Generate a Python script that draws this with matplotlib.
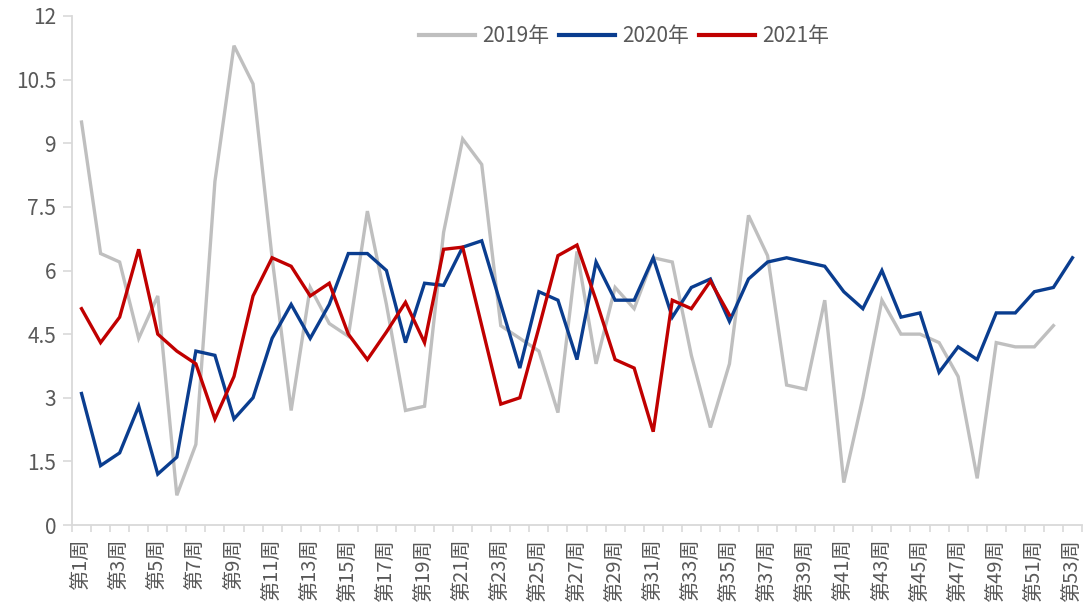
import matplotlib
matplotlib.use("Agg")
import matplotlib.pyplot as plt
import numpy as np

plt.rcParams['font.family'] = ['Noto Sans CJK SC', 'DejaVu Sans']

weeks = [f"第{i}周" for i in range(1, 54)]

y2019 = [9.5, 6.4, 6.2, 4.4, 5.4, 0.7, 1.9, 8.1, 11.3, 10.4,
         6.3, 2.7, 5.6, 4.75, 4.45, 7.4, 5.2, 2.7, 2.8, 6.9,
         9.1, 8.5, 4.7, 4.4, 4.1, 2.65, 6.45, 3.8, 5.6, 5.1,
         6.3, 6.2, 4.0, 2.3, 3.8, 7.3, 6.35, 3.3, 3.2, 5.3,
         1.0, 3.0, 5.3, 4.5, 4.5, 4.3, 3.5, 1.1, 4.3, 4.2,
         4.2, 4.7]
y2020 = [3.1, 1.4, 1.7, 2.8, 1.2, 1.6, 4.1, 4.0, 2.5, 3.0,
         4.4, 5.2, 4.4, 5.2, 6.4, 6.4, 6.0, 4.3, 5.7, 5.65,
         6.55, 6.7, 5.2, 3.7, 5.5, 5.3, 3.9, 6.2, 5.3, 5.3,
         6.3, 4.9, 5.6, 5.8, 4.8, 5.8, 6.2, 6.3, 6.2, 6.1,
         5.5, 5.1, 6.0, 4.9, 5.0, 3.6, 4.2, 3.9, 5.0, 5.0,
         5.5, 5.6, 6.3]
y2021 = [5.1, 4.3, 4.9, 6.5, 4.5, 4.1, 3.8, 2.5, 3.5, 5.4,
         6.3, 6.1, 5.4, 5.7, 4.5, 3.9, 4.55, 5.25, 4.3, 6.5,
         6.55, 4.7, 2.85, 3.0, 4.65, 6.35, 6.6, 5.3, 3.9, 3.7,
         2.2, 5.3, 5.1, 5.75, 4.95]

series_names = ["2019年", "2020年", "2021年"]
series_colors = ["#bfbfbf", "#0a3d8f", "#c00000"]

yticks = [0, 1.5, 3, 4.5, 6, 7.5, 9, 10.5, 12]
ytick_labels = ["0", "1.5", "3", "4.5", "6", "7.5", "9", "10.5", "12"]

W, H = 1088, 612
fig = plt.figure(figsize=(W / 100, H / 100), dpi=100)
ax = fig.add_axes([72 / W, 1 - 525 / H, (1082 - 72) / W, (525 - 16) / H])

x = np.arange(len(weeks))
for vals, name, col in zip([y2019, y2020, y2021], series_names, series_colors):
    ax.plot(x[:len(vals)], vals, color=col, lw=2.4, label=name,
            solid_joinstyle='miter', zorder=3)

ax.set_xlim(-0.5, len(weeks) - 0.5)
ax.set_ylim(0, 12)
ax.set_yticks(yticks)
ax.set_yticklabels(ytick_labels)
ax.set_xticks(x[::2])
ax.set_xticklabels(weeks[::2], rotation=90)
ax.set_xticks(np.arange(-0.5, len(weeks), 1), minor=True)

axis_col = "#d9d9d9"
text_col = "#595959"
for s in ['top', 'right']:
    ax.spines[s].set_visible(False)
for s in ['left', 'bottom']:
    ax.spines[s].set_color(axis_col)
    ax.spines[s].set_linewidth(1.3)

ax.tick_params(axis='y', colors=axis_col, length=6.5, width=1.2, pad=5,
               labelcolor=text_col, labelsize=15)
ax.tick_params(axis='x', which='major', length=0, pad=10,
               labelcolor=text_col, labelsize=14.5)
ax.tick_params(axis='x', which='minor', length=5, width=1.2, colors=axis_col,
               direction='out')

leg = ax.legend(loc='center', bbox_to_anchor=(0.5465, 0.961), ncol=3,
                frameon=False, fontsize=15, handlelength=2.7,
                handletextpad=0.35, columnspacing=0.45, borderpad=0)
for t in leg.get_texts():
    t.set_color(text_col)
for l in leg.get_lines():
    l.set_linewidth(3)

fig.savefig("out.png", dpi=100)
